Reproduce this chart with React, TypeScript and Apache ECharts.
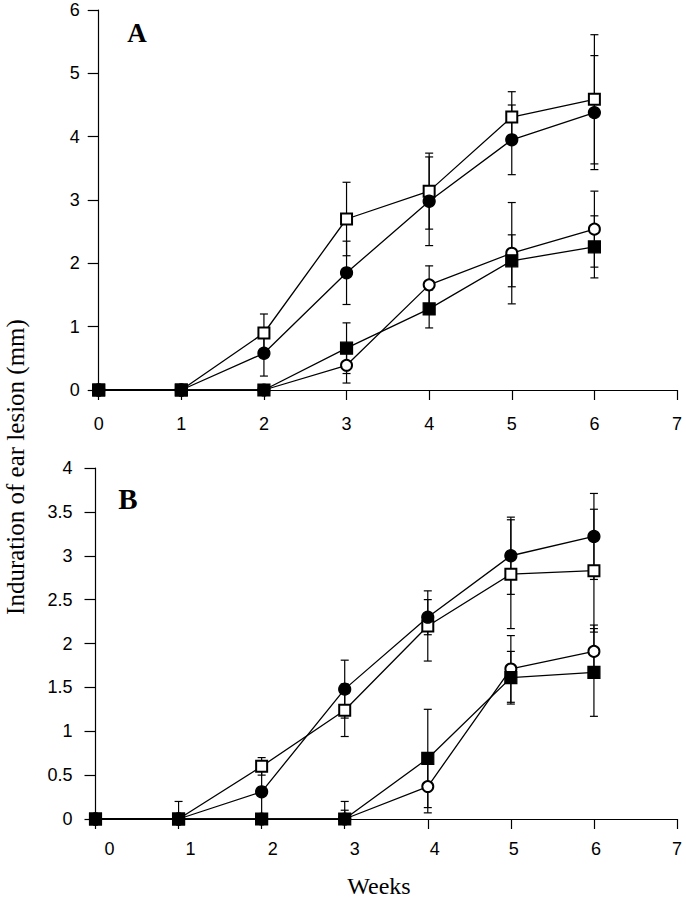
import React, { useEffect, useRef } from "react";
import * as echarts from "echarts";

const weeks = [0, 1, 2, 3, 4, 5, 6];
const xTickLabels = ["0", "1", "2", "3", "4", "5", "6", "7"];

// Panel A
const aOpenSquare = [0, 0, 0.9, 2.7, 3.14, 4.31, 4.59];
const aOpenSquareErr = [0, 0, 0.3, 0.58, 0.6, 0.4, 1.02];
const aFilledCircle = [0, 0, 0.58, 1.85, 2.98, 3.95, 4.38];
const aFilledCircleErr = [0, 0, 0.36, 0.5, 0.7, 0.55, 0.9];
const aOpenCircle = [0, 0, 0, 0.39, 1.66, 2.16, 2.54];
const aOpenCircleErr = [0, 0, 0, 0.28, 0.3, 0.8, 0.6];
const aFilledSquare = [0, 0, 0, 0.66, 1.28, 2.04, 2.26];
const aFilledSquareErr = [0, 0, 0, 0.4, 0.3, 0.41, 0.49];

// Panel B
const bOpenSquare = [0, 0, 0.6, 1.24, 2.2, 2.79, 2.83];
const bOpenSquareErr = [0, 0, 0.1, 0.3, 0.4, 0.62, 0.7];
const bFilledCircle = [0, 0, 0.31, 1.48, 2.3, 3.0, 3.22];
const bFilledCircleErr = [0, 0.2, 0.3, 0.33, 0.2, 0.44, 0.49];
const bOpenCircle = [0, 0, 0, 0, 0.37, 1.71, 1.91];
const bOpenCircleErr = [0, 0, 0, 0.2, 0.3, 0.38, 0.3];
const bFilledSquare = [0, 0, 0, 0, 0.69, 1.61, 1.67];
const bFilledSquareErr = [0, 0, 0, 0.1, 0.56, 0.3, 0.5];

const yTitle = "Induration of ear lesion (mm)";
const xTitle = "Weeks";

// label shifts (px) of panel B x tick labels, as in the reference scan
const bLabelShift = [14, 12, 11, 10, 7, 3, 2, 0];

const SANS = "'Liberation Sans', Arial, Helvetica, sans-serif";
const SERIF = "'Liberation Serif', 'Times New Roman', serif";

function pairs(vals: number[]) {
  return weeks.map((w, i) => [w, vals[i]]);
}
function errs(vals: number[], e: number[]) {
  return weeks
    .map((w, i) => {
      const lo = vals[i] - e[i];
      return [w, Math.max(lo, 0), vals[i] + e[i], lo < 0 ? 0 : 1];
    })
    .filter((_, i) => e[i] > 0);
}

function errorSeries(idx: number, vals: number[], e: number[]) {
  return {
    type: "custom",
    xAxisIndex: idx,
    yAxisIndex: idx,
    z: 1,
    silent: true,
    clip: false,
    data: errs(vals, e),
    renderItem: (params: any, api: any) => {
      const x = api.value(0);
      const lo = api.value(1);
      const hi = api.value(2);
      const lowCap = api.value(3);
      const p1 = api.coord([x, hi]);
      const p2 = api.coord([x, lo]);
      const hw = 4;
      const st = { stroke: "#000", lineWidth: 1.2 };
      const children: any[] = [
        { type: "line", shape: { x1: p1[0], y1: p1[1], x2: p2[0], y2: p2[1] }, style: st },
        { type: "line", shape: { x1: p1[0] - hw, y1: p1[1], x2: p1[0] + hw, y2: p1[1] }, style: st },
      ];
      if (lowCap) {
        children.push({
          type: "line",
          shape: { x1: p2[0] - hw, y1: p2[1], x2: p2[0] + hw, y2: p2[1] },
          style: st,
        });
      }
      return { type: "group", children };
    },
  };
}

function lineSeries(idx: number, vals: number[], symbol: string, size: number) {
  return {
    type: "line",
    xAxisIndex: idx,
    yAxisIndex: idx,
    z: 2,
    data: pairs(vals),
    symbol,
    symbolSize: size,
    showSymbol: true,
    showAllSymbol: true,
    lineStyle: { color: "#000", width: 1.3 },
    itemStyle: { color: "#000", borderColor: "#000", borderWidth: 1.2 },
    emphasis: { disabled: true },
  };
}

export default function App() {
  const ref = useRef<HTMLDivElement>(null);
  useEffect(() => {
    if (!ref.current) return;
    const chart = echarts.init(ref.current, undefined, { renderer: "svg" });

    const axisLineStyle = { lineStyle: { color: "#000", width: 1.2 } };
    const tickStyle = { show: true, length: 10, lineStyle: { color: "#000", width: 1.2 } };

    const rich: any = {};
    xTickLabels.forEach((t, i) => {
      rich["s" + t] = {
        fontSize: 18,
        fontFamily: SANS,
        color: "#000",
        padding: [0, 0, 0, bLabelShift[i] * 2],
      };
    });

    const option: any = {
      animation: false,
      backgroundColor: "#fff",
      grid: [
        { left: 98.7, top: 10, width: 578.3, height: 380 },
        { left: 95.5, top: 468, width: 581.5, height: 351 },
      ],
      xAxis: [
        {
          gridIndex: 0,
          type: "value",
          min: 0,
          max: 7,
          interval: 1,
          axisLine: axisLineStyle,
          axisTick: tickStyle,
          splitLine: { show: false },
          axisLabel: {
            fontSize: 18,
            fontFamily: SANS,
            color: "#000",
            margin: 25,
            formatter: (v: number) => xTickLabels[v],
          },
        },
        {
          gridIndex: 1,
          type: "value",
          min: 0,
          max: 7,
          interval: 1,
          axisLine: axisLineStyle,
          axisTick: tickStyle,
          splitLine: { show: false },
          axisLabel: {
            fontSize: 18,
            fontFamily: SANS,
            color: "#000",
            margin: 21,
            formatter: (v: number) => `{s${xTickLabels[v]}|${xTickLabels[v]}}`,
            rich,
          },
        },
      ],
      yAxis: [
        {
          gridIndex: 0,
          type: "value",
          min: 0,
          max: 6,
          interval: 1,
          axisLine: { show: true, ...axisLineStyle },
          axisTick: { ...tickStyle, length: 11 },
          splitLine: { show: false },
          axisLabel: { fontSize: 18, fontFamily: SANS, color: "#000", margin: 19 },
        },
        {
          gridIndex: 1,
          type: "value",
          min: 0,
          max: 4,
          interval: 0.5,
          axisLine: { show: true, ...axisLineStyle },
          axisTick: { ...tickStyle, length: 11 },
          splitLine: { show: false },
          axisLabel: { fontSize: 18, fontFamily: SANS, color: "#000", margin: 23 },
        },
      ],
      graphic: [
        {
          type: "text",
          x: 137,
          y: 33,
          style: {
            text: "A",
            fontSize: 27,
            fontWeight: "bold",
            fontFamily: SERIF,
            fill: "#000",
            align: "center",
            verticalAlign: "middle",
          },
        },
        {
          type: "text",
          x: 128,
          y: 499,
          style: {
            text: "B",
            fontSize: 29,
            fontWeight: "bold",
            fontFamily: SERIF,
            fill: "#000",
            align: "center",
            verticalAlign: "middle",
          },
        },
        {
          type: "text",
          x: 15,
          y: 467,
          rotation: Math.PI / 2,
          style: {
            text: yTitle,
            fontSize: 25,
            fontFamily: SERIF,
            fill: "#000",
            align: "center",
            verticalAlign: "middle",
          },
        },
        {
          type: "text",
          x: 379,
          y: 886,
          style: {
            text: xTitle,
            fontSize: 24,
            fontFamily: SERIF,
            fill: "#000",
            align: "center",
            verticalAlign: "middle",
          },
        },
      ],
      series: [
        errorSeries(0, aOpenSquare, aOpenSquareErr),
        errorSeries(0, aFilledCircle, aFilledCircleErr),
        errorSeries(0, aOpenCircle, aOpenCircleErr),
        errorSeries(0, aFilledSquare, aFilledSquareErr),
        errorSeries(1, bOpenSquare, bOpenSquareErr),
        errorSeries(1, bFilledCircle, bFilledCircleErr),
        errorSeries(1, bOpenCircle, bOpenCircleErr),
        errorSeries(1, bFilledSquare, bFilledSquareErr),
        lineSeries(0, aOpenSquare, "emptyRect", 11),
        lineSeries(0, aOpenCircle, "emptyCircle", 11),
        lineSeries(0, aFilledCircle, "circle", 12),
        lineSeries(0, aFilledSquare, "rect", 12),
        lineSeries(1, bOpenSquare, "emptyRect", 11),
        lineSeries(1, bOpenCircle, "emptyCircle", 11),
        lineSeries(1, bFilledCircle, "circle", 12),
        lineSeries(1, bFilledSquare, "rect", 12),
      ],
    };
    chart.setOption(option);
    return () => chart.dispose();
  }, []);

  return (
    <div
      ref={ref}
      style={{ position: "absolute", left: 0, top: 0, width: 686, height: 900 }}
    />
  );
}
